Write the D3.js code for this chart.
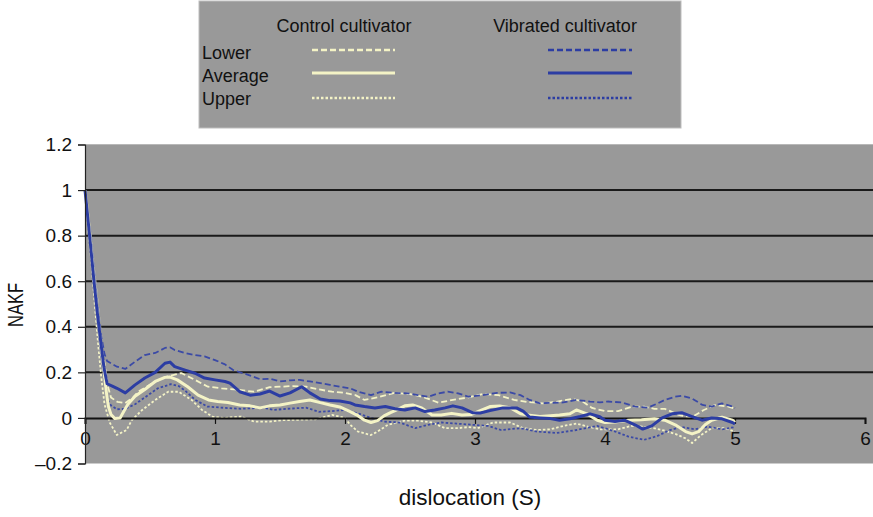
<!DOCTYPE html>
<html>
<head>
<meta charset="utf-8">
<script src="https://cdn.jsdelivr.net/npm/d3@7/dist/d3.min.js"></script>
<style>
  html, body { margin: 0; padding: 0; background: #ffffff; }
  svg { display: block; font-family: "Liberation Sans", Arial, Helvetica, sans-serif; }
</style>
</head>
<body>
<svg id="chart" width="873" height="517"></svg>
<script>
// ---------- DATA ----------
const xTicks = [0, 1, 2, 3, 4, 5, 6];
const yTicks = [-0.2, 0, 0.2, 0.4, 0.6, 0.8, 1, 1.2];
const yTickLabels = ["\u20130.2", "0", "0.2", "0.4", "0.6", "0.8", "1", "1.2"];
const seriesNames = ["Lower", "Average", "Upper"];
const groupNames = ["Control cultivator", "Vibrated cultivator"];

// Vibrated cultivator – average
const vibAvg = [[0,1.0],[0.018,0.9],[0.044,0.75],[0.069,0.6],[0.095,0.46],[0.12,0.34],[0.146,0.22],[0.17,0.15],[0.21,0.14],[0.246,0.13],[0.31,0.11],[0.385,0.145],[0.46,0.175],[0.54,0.2],[0.615,0.24],[0.654,0.245],[0.69,0.225],[0.77,0.21],[0.846,0.196],[0.92,0.175],[1.0,0.167],[1.077,0.16],[1.115,0.153],[1.19,0.115],[1.27,0.1],[1.346,0.105],[1.42,0.118],[1.5,0.096],[1.577,0.11],[1.667,0.137],[1.73,0.11],[1.81,0.083],[1.885,0.076],[1.96,0.074],[2.04,0.066],[2.077,0.057],[2.15,0.05],[2.23,0.044],[2.31,0.05],[2.385,0.04],[2.46,0.035],[2.54,0.044],[2.615,0.028],[2.69,0.035],[2.77,0.044],[2.83,0.053],[2.9,0.044],[2.98,0.023],[3.04,0.022],[3.115,0.032],[3.215,0.044],[3.32,0.044],[3.37,0.03],[3.42,0.004],[3.5,0.0],[3.58,-0.003],[3.65,-0.01],[3.73,-0.004],[3.81,0.006],[3.885,0.018],[3.96,0.005],[4.0,-0.01],[4.077,-0.016],[4.15,-0.01],[4.23,-0.03],[4.29,-0.049],[4.36,-0.035],[4.44,0.0],[4.515,0.018],[4.59,0.023],[4.67,0.006],[4.746,-0.01],[4.82,0.0],[4.9,-0.004],[4.98,-0.02],[5.0,-0.027]];
// Vibrated cultivator – band drawn dashed (above the average)
const vibLower = [[0,1.0],[0.02,0.92],[0.05,0.78],[0.075,0.62],[0.1,0.48],[0.125,0.36],[0.15,0.28],[0.17,0.25],[0.2,0.24],[0.246,0.225],[0.31,0.215],[0.385,0.247],[0.46,0.276],[0.54,0.285],[0.615,0.307],[0.654,0.31],[0.69,0.298],[0.77,0.285],[0.846,0.276],[0.92,0.27],[1.0,0.254],[1.077,0.235],[1.14,0.21],[1.25,0.19],[1.346,0.17],[1.42,0.172],[1.5,0.16],[1.577,0.165],[1.65,0.167],[1.73,0.16],[1.81,0.153],[1.885,0.145],[1.96,0.137],[2.04,0.13],[2.1,0.115],[2.2,0.1],[2.28,0.115],[2.385,0.11],[2.48,0.108],[2.56,0.1],[2.64,0.093],[2.72,0.108],[2.79,0.115],[2.87,0.108],[2.95,0.093],[3.06,0.1],[3.17,0.11],[3.27,0.112],[3.35,0.1],[3.42,0.079],[3.5,0.064],[3.58,0.066],[3.68,0.068],[3.78,0.079],[3.885,0.072],[3.96,0.068],[4.02,0.072],[4.13,0.068],[4.23,0.05],[4.33,0.045],[4.41,0.065],[4.46,0.079],[4.54,0.093],[4.59,0.097],[4.67,0.085],[4.75,0.057],[4.82,0.05],[4.9,0.064],[4.98,0.05],[5.0,0.044]];
// Vibrated cultivator – band drawn dotted (below the average)
const vibUpper = [[0,1.0],[0.02,0.88],[0.05,0.72],[0.075,0.56],[0.1,0.4],[0.125,0.27],[0.15,0.16],[0.175,0.08],[0.2,0.055],[0.246,0.038],[0.31,0.04],[0.385,0.06],[0.46,0.09],[0.56,0.13],[0.66,0.148],[0.72,0.14],[0.77,0.12],[0.846,0.08],[0.94,0.05],[1.08,0.044],[1.2,0.04],[1.37,0.045],[1.45,0.035],[1.55,0.04],[1.7,0.045],[1.8,0.027],[1.9,0.03],[2.0,0.035],[2.1,0.02],[2.2,0.0],[2.3,-0.016],[2.42,-0.02],[2.54,-0.045],[2.64,-0.03],[2.74,-0.02],[2.86,-0.025],[2.98,-0.03],[3.1,-0.035],[3.2,-0.053],[3.35,-0.045],[3.48,-0.06],[3.63,-0.066],[3.78,-0.053],[3.94,-0.035],[4.08,-0.06],[4.18,-0.082],[4.3,-0.096],[4.4,-0.08],[4.5,-0.053],[4.59,-0.04],[4.69,-0.05],[4.79,-0.038],[4.9,-0.05],[5.0,-0.04]];

// Control cultivator – average
const ctlAvg = [[0,1.0],[0.02,0.9],[0.045,0.76],[0.07,0.6],[0.095,0.46],[0.12,0.33],[0.145,0.21],[0.165,0.11],[0.18,0.05],[0.2,0.015],[0.23,-0.003],[0.27,0.0],[0.3,0.03],[0.33,0.06],[0.385,0.095],[0.46,0.125],[0.54,0.16],[0.615,0.178],[0.65,0.18],[0.71,0.167],[0.79,0.137],[0.87,0.1],[0.95,0.079],[1.02,0.072],[1.1,0.068],[1.19,0.057],[1.27,0.053],[1.346,0.044],[1.42,0.053],[1.5,0.057],[1.577,0.065],[1.65,0.072],[1.73,0.079],[1.81,0.067],[1.885,0.057],[1.96,0.048],[2.04,0.028],[2.1,0.01],[2.15,-0.01],[2.2,-0.02],[2.25,-0.012],[2.3,0.009],[2.35,0.023],[2.385,0.032],[2.46,0.053],[2.52,0.057],[2.59,0.044],[2.67,0.013],[2.74,0.013],[2.82,0.02],[2.9,0.013],[2.97,0.015],[3.04,0.032],[3.115,0.05],[3.19,0.052],[3.27,0.045],[3.35,0.018],[3.42,0.012],[3.5,0.006],[3.58,0.01],[3.65,0.013],[3.73,0.018],[3.78,0.035],[3.86,0.018],[3.94,-0.01],[4.0,-0.02],[4.077,-0.018],[4.18,-0.01],[4.28,-0.008],[4.38,-0.004],[4.46,-0.01],[4.54,-0.03],[4.62,-0.06],[4.67,-0.07],[4.72,-0.06],[4.77,-0.03],[4.82,-0.01],[4.9,0.003],[4.98,-0.01],[5.0,-0.02]];
// Control cultivator – band drawn dashed (above the average)
const ctlLower = [[0,1.0],[0.02,0.92],[0.05,0.78],[0.075,0.63],[0.1,0.49],[0.125,0.36],[0.15,0.24],[0.175,0.14],[0.2,0.09],[0.25,0.07],[0.31,0.065],[0.37,0.09],[0.41,0.115],[0.52,0.153],[0.62,0.18],[0.74,0.197],[0.846,0.167],[0.946,0.137],[1.05,0.13],[1.15,0.125],[1.3,0.115],[1.42,0.135],[1.5,0.137],[1.6,0.14],[1.7,0.137],[1.8,0.125],[1.9,0.115],[2.0,0.11],[2.08,0.1],[2.15,0.079],[2.25,0.09],[2.38,0.11],[2.5,0.105],[2.6,0.092],[2.72,0.067],[2.83,0.079],[2.95,0.09],[3.06,0.105],[3.18,0.1],[3.3,0.079],[3.4,0.07],[3.52,0.064],[3.62,0.07],[3.74,0.083],[3.82,0.075],[3.9,0.044],[4.0,0.03],[4.1,0.03],[4.2,0.048],[4.3,0.05],[4.38,0.04],[4.46,0.04],[4.56,0.015],[4.66,0.0],[4.76,0.035],[4.85,0.057],[4.95,0.05],[5.0,0.04]];
// Control cultivator – band drawn dotted (below the average)
const ctlUpper = [[0,1.0],[0.02,0.86],[0.05,0.68],[0.075,0.5],[0.1,0.33],[0.125,0.18],[0.15,0.06],[0.19,-0.02],[0.245,-0.075],[0.32,-0.053],[0.36,-0.01],[0.44,0.035],[0.54,0.079],[0.64,0.115],[0.72,0.115],[0.82,0.079],[0.9,0.035],[0.98,0.006],[1.07,0.0],[1.2,0.006],[1.3,-0.016],[1.42,-0.016],[1.52,-0.01],[1.65,-0.008],[1.77,-0.006],[1.9,0.013],[2.0,0.0],[2.04,-0.03],[2.1,-0.06],[2.2,-0.075],[2.25,-0.06],[2.33,-0.03],[2.46,-0.012],[2.56,-0.012],[2.67,-0.02],[2.77,-0.045],[2.87,-0.045],[2.95,-0.04],[3.02,-0.045],[3.14,-0.02],[3.27,-0.02],[3.37,-0.045],[3.48,-0.053],[3.58,-0.05],[3.68,-0.035],[3.78,-0.025],[3.88,-0.04],[3.96,-0.05],[4.1,-0.05],[4.2,-0.035],[4.33,-0.04],[4.44,-0.053],[4.54,-0.07],[4.62,-0.09],[4.67,-0.11],[4.74,-0.075],[4.82,-0.045],[4.92,-0.045],[5.0,-0.06]];

// ---------- STYLES ----------
const CREAM = "#f4f3c6";
const BLUE = "#2c3da3";
const BLUE_BAND = "#3b4aa6";
const DASH = "6,3";
const DOT = "2.5,2";
const FONT = "'Liberation Sans', Arial, Helvetica, sans-serif";

const svg = d3.select("#chart");
const W = 873, H = 517;
const plot = { left: 85, right: 865, top: 144.5, bottom: 463.5 };

const x = d3.scaleLinear().domain([0, 6]).range([plot.left, plot.right]);
const y = d3.scaleLinear().domain([-0.2, 1.2]).range([plot.bottom, plot.top]);

// Plot area background
svg.append("rect")
  .attr("x", plot.left).attr("y", plot.top)
  .attr("width", W - plot.left).attr("height", plot.bottom - plot.top)
  .attr("fill", "#999999");
svg.append("line")
  .attr("x1", plot.left).attr("x2", W)
  .attr("y1", plot.top).attr("y2", plot.top)
  .attr("stroke", "#b8b8b8").attr("stroke-width", 1);

// Gridlines
svg.append("g")
  .selectAll("line")
  .data(yTicks.filter(d => d > 0 && d < 1.2))
  .join("line")
  .attr("x1", plot.left).attr("x2", W)
  .attr("y1", d => y(d)).attr("y2", d => y(d))
  .attr("stroke", "#1a1a1a").attr("stroke-width", 2);

// Band lines
const line = d3.line().x(d => x(d[0])).y(d => y(d[1]));
const series = [
  { data: ctlUpper, color: CREAM, width: 1.8, dash: DOT },
  { data: ctlLower, color: CREAM, width: 1.8, dash: DASH },
  { data: vibUpper, color: BLUE_BAND, width: 1.8, dash: DOT },
  { data: vibLower, color: BLUE_BAND, width: 1.8, dash: DASH },
];
svg.append("g").selectAll("path")
  .data(series)
  .join("path")
  .attr("d", d => line(d.data))
  .attr("fill", "none")
  .attr("stroke", d => d.color)
  .attr("stroke-width", d => d.width)
  .attr("stroke-dasharray", d => d.dash)
  .attr("stroke-linejoin", "round");

// x axis at y = 0
const xAxis = d3.axisBottom(x).tickValues(xTicks).tickSize(6).tickFormat(d3.format("d")).tickPadding(8);
const gx = svg.append("g").attr("transform", `translate(0,${y(0)})`).call(xAxis);
gx.select(".domain").attr("stroke", "#111").attr("stroke-width", 2);
gx.selectAll(".tick line").attr("stroke", "#111").attr("stroke-width", 1.2);
gx.selectAll(".tick text").attr("font-size", 19).attr("fill", "#111").attr("font-family", FONT);

// Average lines
svg.append("g").selectAll("path")
  .data([
    { data: ctlAvg, color: CREAM, width: 3 },
    { data: vibAvg, color: BLUE, width: 3 },
  ])
  .join("path")
  .attr("d", d => line(d.data))
  .attr("fill", "none")
  .attr("stroke", d => d.color)
  .attr("stroke-width", d => d.width)
  .attr("stroke-linejoin", "round");

// y axis
const yAxis = d3.axisLeft(y).tickValues(yTicks).tickSize(7).tickPadding(6)
  .tickFormat((d, i) => yTickLabels[i]);
const gy = svg.append("g").attr("transform", `translate(${plot.left},0)`).call(yAxis);
gy.select(".domain").attr("stroke", "#222").attr("stroke-width", 1.2);
gy.selectAll(".tick line").attr("stroke", "#222").attr("stroke-width", 1.2);
gy.selectAll(".tick text").attr("font-size", 19).attr("fill", "#111").attr("font-family", FONT);

// Axis titles
svg.append("text")
  .attr("transform", `translate(17,305) rotate(-90) scale(0.75,1)`)
  .attr("text-anchor", "middle").attr("dominant-baseline", "middle")
  .attr("font-size", 22).attr("fill", "#111").text("NAKF");
svg.append("text")
  .attr("x", 470).attr("y", 505)
  .attr("text-anchor", "middle")
  .attr("font-size", 22.5).attr("fill", "#111").text("dislocation (S)");

// Legend
const lg = svg.append("g");
lg.append("rect").attr("x", 199).attr("y", 1).attr("width", 482).attr("height", 127)
  .attr("fill", "#999999").attr("stroke", "#bdbdbd").attr("stroke-width", 1);
lg.selectAll("text.grp").data(groupNames).join("text").attr("class", "grp")
  .attr("x", (d, i) => [344, 565][i]).attr("y", 32)
  .attr("text-anchor", "middle").attr("font-size", 18).attr("fill", "#111").text(d => d);
const rowY = [50, 73, 98];
const rowTextY = [59, 82, 105];
lg.selectAll("text.row").data(seriesNames).join("text").attr("class", "row")
  .attr("x", 202).attr("y", (d, i) => rowTextY[i])
  .attr("font-size", 18).attr("fill", "#111").text(d => d);
const legendStyles = [
  { dash: DASH, w: 2.5 }, { dash: null, w: 3 }, { dash: DOT, w: 2.5 }
];
[{ x1: 312, x2: 395, color: CREAM }, { x1: 548, x2: 632, color: BLUE }].forEach(g => {
  legendStyles.forEach((s, i) => {
    lg.append("line").attr("x1", g.x1).attr("x2", g.x2)
      .attr("y1", rowY[i]).attr("y2", rowY[i])
      .attr("stroke", g.color).attr("stroke-width", s.w)
      .attr("stroke-dasharray", s.dash);
  });
});
</script>
</body>
</html>
